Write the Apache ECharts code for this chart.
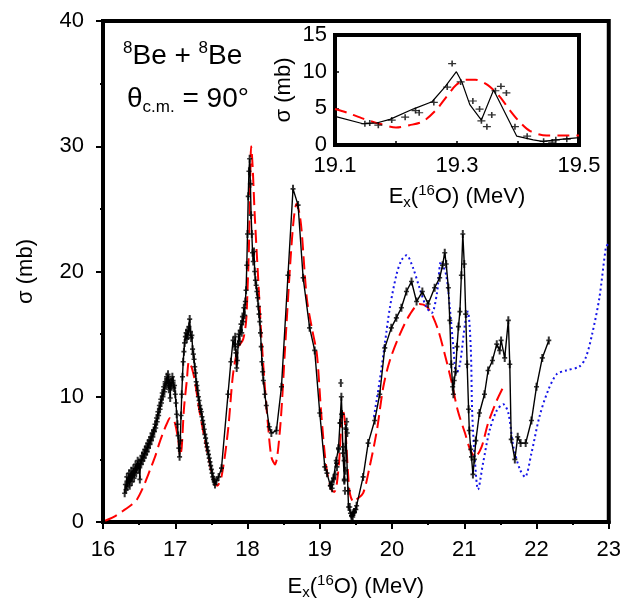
<!DOCTYPE html>
<html><head><meta charset="utf-8">
<script src="https://cdn.jsdelivr.net/npm/echarts@6/dist/echarts.min.js"></script>
<style>html,body{margin:0;padding:0;background:#fff}#c{width:624px;height:605px}</style>
</head><body><div id="c"></div>
<script>
// ---- main panel: experimental data (E in MeV, sigma in mb)
const expE = [16.30,16.31,16.32,16.33,16.34,16.35,16.36,16.37,16.38,16.39,16.40,16.41,16.42,16.43,16.44,16.45,16.46,16.47,16.48,16.49,
16.50,16.51,16.52,16.53,16.54,16.55,16.56,16.57,16.58,16.59,16.60,16.61,16.62,16.63,16.64,16.65,16.66,16.67,16.68,16.69,
16.70,16.71,16.72,16.73,16.74,16.75,16.76,16.77,16.78,16.79,16.80,16.81,16.82,16.83,16.84,16.85,16.86,16.87,16.88,16.89,
16.90,16.91,16.92,16.93,16.94,16.95,16.96,16.97,16.98,16.99,17.00,17.01,17.02,17.03,17.04,17.05,17.06,17.07,17.08,17.09,
17.10,17.11,17.12,17.13,17.14,17.15,17.16,17.17,17.18,17.19,17.20,17.21,17.22,17.23,17.24,17.25,17.26,17.27,17.28,17.29,
17.30,17.31,17.32,17.33,17.34,17.35,17.36,17.37,17.38,17.39,17.40,17.41,17.42,17.43,17.44,17.45,17.46,17.47,17.48,17.49,
17.50,17.51,17.52,17.53,17.54,17.55,17.57,17.60,17.64,17.73,17.77,17.80,17.82,17.83,17.84,17.85,17.86,17.87,17.88,17.89,
17.90,17.91,17.92,17.93,17.94,17.95,17.96,17.97,17.98,17.99,18.00,18.01,18.02,18.03,18.04,18.05,18.06,18.07,18.08,18.09,
18.10,18.11,18.12,18.13,18.14,18.15,18.16,18.17,18.18,18.19,18.20,18.21,18.22,18.24,18.26,18.30,18.33,18.40,18.47,18.56,
18.63,18.70,18.77,18.86,18.93,19.00,19.07,19.10,19.146,19.168,19.19,19.228,19.259,19.28,19.299,19.308,19.321,19.34,19.36,19.398,
19.425,19.44,19.474,19.50,19.51,19.60,19.67,19.76,19.83,19.90,19.99,20.06,20.13,20.20,20.27,20.34,20.42,20.50,20.59,20.66,
20.70,20.73,20.75,20.78,20.80,20.82,20.84,20.85,20.86,20.88,20.90,20.92,20.94,20.96,20.98,21.00,21.02,21.04,21.06,21.07,
21.09,21.10,21.12,21.14,21.16,21.21,21.28,21.33,21.39,21.45,21.49,21.51,21.56,21.61,21.63,21.65,21.70,21.74,21.78,21.85,
21.93,22.00,22.08,22.17];
const expS = [2.3,3.0,2.6,3.6,2.8,3.3,3.9,2.9,3.5,4.1,3.2,3.8,4.3,3.5,4.0,4.6,3.9,4.4,4.9,4.2,
4.7,3.4,5.0,4.6,5.3,4.9,5.5,5.1,5.8,5.4,6.0,5.6,6.3,5.9,6.5,6.2,6.8,6.5,7.1,6.8,
7.3,7.2,7.8,7.5,8.3,8.0,8.8,8.5,9.3,9.0,9.8,9.5,10.3,10.0,10.8,10.4,11.2,10.9,11.6,11.0,
11.8,10.6,11.4,9.9,11.2,10.8,11.6,11.3,10.7,10.9,10.2,9.5,8.6,7.8,6.9,5.9,5.2,6.5,8.5,10.2,
11.6,12.8,13.6,14.3,14.8,15.1,14.6,15.3,14.9,15.6,16.2,15.2,14.7,14.9,13.8,13.4,13.0,12.4,11.9,11.2,
10.9,10.5,10.0,9.7,9.3,9.0,8.8,8.4,8.1,7.8,7.4,7.0,6.7,6.3,6.0,5.7,5.4,5.1,4.8,4.5,
4.2,3.9,3.6,3.4,3.2,3.0,3.3,3.6,4.3,10.2,12.8,14.5,14.0,14.8,13.5,12.3,12.9,14.2,15.0,14.4,
15.3,15.8,15.1,16.4,16.0,17.1,16.5,17.6,18.5,20.5,23.0,26.0,28.0,29.0,27.0,24.5,23.0,21.5,20.8,21.6,
20.0,19.3,18.9,18.4,17.9,17.2,16.6,16.0,15.1,14.0,12.8,12.0,11.3,10.2,9.3,7.6,7.1,7.3,10.8,19.7,
26.6,25.3,19.5,15.5,13.7,8.7,4.4,3.9,2.9,3.0,3.5,4.9,5.9,7.9,10.0,8.6,5.5,3.4,7.5,1.2,
0.7,0.5,0.8,1.0,1.3,3.6,6.3,8.1,10.2,13.9,15.5,16.3,17.1,18.4,19.2,17.6,18.4,17.4,18.7,19.5,
20.5,21.5,20.6,18.7,16.1,12.6,10.8,10.2,11.3,12.0,14.0,15.6,16.8,19.7,23.0,20.6,16.6,12.6,9.0,7.3,
5.8,5.2,3.8,5.0,6.5,8.7,10.2,12.1,12.9,14.2,13.7,14.5,13.1,16.1,12.6,6.6,5.0,6.8,6.3,6.3,
8.1,10.8,13.1,14.5];

// red dashed calculation
const redE = [16.03,16.15,16.28,16.40,16.47,16.55,16.60,16.66,16.72,16.78,16.83,16.88,16.93,16.97,17.00,17.04,17.07,17.09,17.12,17.16,
17.19,17.23,17.27,17.34,17.43,17.53,17.58,17.64,17.73,17.80,17.87,17.94,17.98,18.00,18.02,18.04,18.05,18.07,18.10,18.15,
18.19,18.24,18.28,18.33,18.38,18.45,18.52,18.59,18.64,18.68,18.72,18.75,18.82,18.89,18.96,19.02,19.09,19.16,19.20,19.23,
19.27,19.30,19.32,19.34,19.36,19.39,19.42,19.47,19.51,19.60,19.69,19.79,19.88,19.97,20.11,20.25,20.38,20.48,20.55,20.64,
20.73,20.82,20.91,21.01,21.08,21.15,21.24,21.33,21.45,21.56];
const redS = [0.1,0.4,0.9,1.4,1.8,2.7,3.4,4.3,5.2,6.3,7.1,7.8,8.3,8.2,7.8,6.6,5.3,6.0,9.0,11.3,
12.8,12.3,11.3,8.7,6.0,3.4,2.9,3.6,7.3,11.8,13.9,14.6,16.0,18.5,22.0,28.0,30.0,28.5,24.5,19.2,
15.0,10.8,8.0,5.2,4.6,7.4,13.9,20.5,24.2,25.4,24.6,23.2,17.9,15.5,13.4,8.7,4.4,2.6,2.4,2.8,
5.0,8.0,8.9,8.4,7.0,4.0,2.2,1.6,1.8,2.3,4.4,7.3,10.8,12.9,15.0,16.6,17.4,17.2,16.6,15.3,
13.4,11.3,8.9,7.1,5.8,5.2,6.0,7.9,9.7,11.0];

// blue dotted calculation
const blueE = [19.75,19.83,19.90,19.97,20.06,20.13,20.20,20.29,20.38,20.48,20.55,20.62,20.68,20.75,20.80,20.85,20.89,20.94,21.01,21.05,
21.09,21.11,21.15,21.19,21.26,21.35,21.45,21.54,21.61,21.68,21.77,21.84,21.93,22.04,22.16,22.28,22.41,22.59,22.68,22.77,
22.87,22.96,22.99];
const blueS = [8.4,11.3,14.2,17.1,19.7,20.9,21.3,20.3,18.7,17.1,16.7,18.2,20.8,19.7,17.1,13.9,11.8,12.6,15.8,16.8,
13.9,8.7,4.7,2.6,4.7,7.3,8.9,9.4,8.7,6.0,4.2,3.6,5.5,8.4,10.5,11.8,12.1,12.4,13.1,15.0,
17.9,21.9,22.2];

// ---- inset (19.1 - 19.5 MeV)
const insetLineE = [19.10,19.146,19.168,19.19,19.228,19.259,19.28,19.299,19.308,19.321,19.34,19.36,19.398,19.425,19.44,19.474,19.50];
const insetLineS = [3.9,2.9,3.0,3.5,4.9,5.9,7.9,10.0,8.6,5.5,3.4,7.5,1.2,0.7,0.5,0.8,1.0];
const insetPtE = [19.149,19.157,19.171,19.193,19.215,19.232,19.238,19.262,19.284,19.292,19.306,19.326,19.337,19.340,19.349,19.357,19.363,19.372,19.381,19.395,19.415,19.442,19.456,19.462,19.48];
const insetPtS = [2.9,3.0,2.7,3.4,3.8,4.7,4.4,5.8,7.9,11.1,8.6,6.0,4.9,3.3,2.5,4.1,7.4,8.0,7.1,2.5,1.2,0.5,0.4,0.7,0.8];
const insetRedE = [19.10,19.12,19.146,19.173,19.20,19.222,19.244,19.266,19.283,19.299,19.315,19.33,19.35,19.37,19.386,19.402,19.42,19.447,19.47,19.50];
const insetRedS = [4.9,4.4,3.6,2.9,2.4,2.7,3.2,4.8,6.6,8.2,8.9,8.9,8.2,6.6,4.8,3.2,1.9,1.3,1.3,1.3];

// tick labels
const mainXTicks = [16,17,18,19,20,21,22,23];
const mainYTicks = [0,10,20,30,40];
const insetXLabels = ['19.1','19.3','19.5'];

const zip = (a,b) => a.map((v,i)=>[v,b[i]]);
const FF = '"Liberation Sans", Arial, Helvetica, sans-serif';
const plusMain = 'path://M3,0h4v4h3v2h-3v4h-4v-4h-3v-2h3z';
const plusInset = 'path://M4,0h2v4h4v2h-4v4h-2v-4h-4v-2h4z';
const richSS = {
  sub:{fontSize:15,fontFamily:FF,color:'#000',padding:[12,0,0,0]},
  sup:{fontSize:15,fontFamily:FF,color:'#000',padding:[0,0,12,0]}
};

const chart = echarts.init(document.getElementById('c'), null, {renderer:'canvas'});
chart.setOption({
  animation:false,
  backgroundColor:'#fff',
  title:[
    {text:'{sup|8}Be + {sup|8}Be', left:118, top:35,
     textStyle:{fontSize:28,fontWeight:'normal',fontFamily:FF,color:'#000',
       rich:{sup:{fontSize:17,fontFamily:FF,color:'#000',padding:[0,0,16,0]}}}},
    {text:'θ{sub|c.m.} = 90°', left:122, top:78,
     textStyle:{fontSize:28,fontWeight:'normal',fontFamily:FF,color:'#000',
       rich:{sub:{fontSize:17,fontFamily:FF,color:'#000',padding:[16,0,0,0]}}}}
  ],
  grid:[
    {left:103, top:21, width:506, height:505, show:true, borderColor:'#000', borderWidth:4, backgroundColor:'transparent', containLabel:false},
    {left:335, top:35, width:244, height:110, show:true, borderColor:'#000', borderWidth:4, backgroundColor:'#fff', containLabel:false, z:5}
  ],
  xAxis:[
    {gridIndex:0, type:'value', min:16, max:23, interval:1,
     axisLine:{show:true,onZero:false,lineStyle:{color:'#000',width:4}},
     axisTick:{show:true,inside:false,length:7,lineStyle:{color:'#000',width:2}},
     minorTick:{show:true,splitNumber:2,length:3,lineStyle:{color:'#000',width:2}},
     splitLine:{show:false},
     axisLabel:{fontSize:22,fontFamily:FF,color:'#000',margin:17,
       formatter:v=>mainXTicks.includes(Math.round(v))?String(Math.round(v)):''},
     name:'E{sub|x}({sup|16}O) (MeV)', nameLocation:'middle', nameGap:51,
     nameTextStyle:{fontSize:22,fontFamily:FF,color:'#000',rich:richSS}},
    {gridIndex:1, type:'value', min:19.1, max:19.5, interval:0.1,
     axisLine:{show:true,onZero:false,lineStyle:{color:'#000',width:4}},
     axisTick:{show:true,inside:true,length:4,lineStyle:{color:'#000',width:1.5}},
     splitLine:{show:false},
     axisLabel:{fontSize:22,fontFamily:FF,color:'#000',margin:10,
       formatter:v=>{const s=v.toFixed(1);return insetXLabels.includes(s)?s:'';}},
     name:'E{sub|x}({sup|16}O) (MeV)', nameLocation:'middle', nameGap:38,
     nameTextStyle:{fontSize:22,fontFamily:FF,color:'#000',rich:richSS}, z:6}
  ],
  yAxis:[
    {gridIndex:0, type:'value', min:0, max:40, interval:10,
     axisLine:{show:true,onZero:false,lineStyle:{color:'#000',width:4}},
     axisTick:{show:true,inside:false,length:7,lineStyle:{color:'#000',width:2}},
     minorTick:{show:true,splitNumber:2,length:3,lineStyle:{color:'#000',width:2}},
     splitLine:{show:false},
     axisLabel:{fontSize:22,fontFamily:FF,color:'#000',margin:19,
       formatter:v=>mainYTicks.includes(v)?String(v):''},
     name:'σ (mb)', nameLocation:'middle', nameGap:66, nameRotate:90,
     nameTextStyle:{fontSize:22,fontFamily:FF,color:'#000'}},
    {gridIndex:1, type:'value', min:0, max:15, interval:5,
     axisLine:{show:true,onZero:false,lineStyle:{color:'#000',width:4}},
     axisTick:{show:true,inside:true,length:4,lineStyle:{color:'#000',width:1.5}},
     splitLine:{show:false},
     axisLabel:{fontSize:22,fontFamily:FF,color:'#000',margin:8},
     name:'σ (mb)', nameLocation:'middle', nameGap:40, nameRotate:90,
     nameTextStyle:{fontSize:22,fontFamily:FF,color:'#000'}, z:6}
  ],
  series:[
    {type:'line', xAxisIndex:0, yAxisIndex:0, data:zip(redE,redS), smooth:0.3, showSymbol:false,
     lineStyle:{color:'#ff0000',width:2,type:[13,6]}, z:2},
    {type:'line', xAxisIndex:0, yAxisIndex:0, data:zip(blueE,blueS), smooth:0.3, showSymbol:false,
     lineStyle:{color:'#1515e8',width:2,type:[2,3]}, z:2},
    {type:'line', xAxisIndex:0, yAxisIndex:0, data:zip(expE,expS), showSymbol:false,
     lineStyle:{color:'#000',width:1.4}, z:3},
    {type:'scatter', xAxisIndex:0, yAxisIndex:0, data:zip(expE,expS).concat(zip(insetPtE,insetPtS)),
     symbol:plusMain, symbolSize:[5,8], itemStyle:{color:'#000'}, z:4},
    {type:'line', xAxisIndex:1, yAxisIndex:1, data:zip(insetRedE,insetRedS), smooth:0.3, showSymbol:false,
     lineStyle:{color:'#ff0000',width:2,type:[12,7]}, z:7},
    {type:'line', xAxisIndex:1, yAxisIndex:1, data:zip(insetLineE,insetLineS), showSymbol:false,
     lineStyle:{color:'#000',width:1.2}, z:7},
    {type:'scatter', xAxisIndex:1, yAxisIndex:1, data:zip(insetPtE,insetPtS),
     symbol:plusInset, symbolSize:[8,6], itemStyle:{color:'#000'}, z:8}
  ]
});
</script>
</body></html>
